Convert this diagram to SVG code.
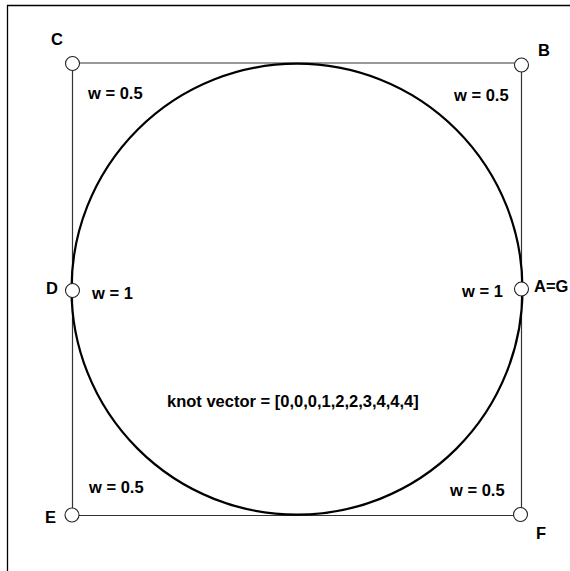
<svg xmlns="http://www.w3.org/2000/svg" width="570" height="571" viewBox="0 0 570 571">
<style>
.frame{fill:none;stroke:#000;stroke-width:1.3}
.poly{fill:none;stroke:#333;stroke-width:1.2}
.curve{fill:none;stroke:#000;stroke-width:2.2}
.pt{fill:#fff;stroke:#222;stroke-width:1.1}
text{font-family:"Liberation Sans",Arial,sans-serif;font-weight:bold;font-size:16.5px;fill:#000}
</style>
<rect width="570" height="571" fill="#fff"/>
<path class="frame" d="M7.5,571 V5.5 H570"/>
<g id="connectors">
<path class="poly" d="M72.5,63 H521.5 V515.5 H72.5 Z"/>
<circle class="curve" cx="297" cy="289.2" r="225.5"/>
</g>
<g id="C"><circle class="pt" cx="72.5" cy="63.5" r="7"/><text x="51" y="45">C</text></g>
<g id="B"><circle class="pt" cx="521.5" cy="65" r="7"/><text x="538" y="56">B</text></g>
<g id="D"><circle class="pt" cx="72.5" cy="290.5" r="7"/><text x="46" y="294">D</text></g>
<g id="AG"><circle class="pt" cx="521.5" cy="289" r="7"/><text x="534" y="292">A=G</text></g>
<g id="E"><circle class="pt" cx="72" cy="515" r="7"/><text x="45" y="523">E</text></g>
<g id="F"><circle class="pt" cx="520.5" cy="514.5" r="7"/><text x="536" y="539">F</text></g>
<g id="labels">
<text x="88" y="99">w = 0.5</text>
<text x="454" y="101">w = 0.5</text>
<text x="92" y="299">w = 1</text>
<text x="462" y="297">w = 1</text>
<text x="89" y="493">w = 0.5</text>
<text x="450" y="496">w = 0.5</text>
<text x="167" y="407">knot vector = [0,0,0,1,2,2,3,4,4,4]</text>
</g>
</svg>
